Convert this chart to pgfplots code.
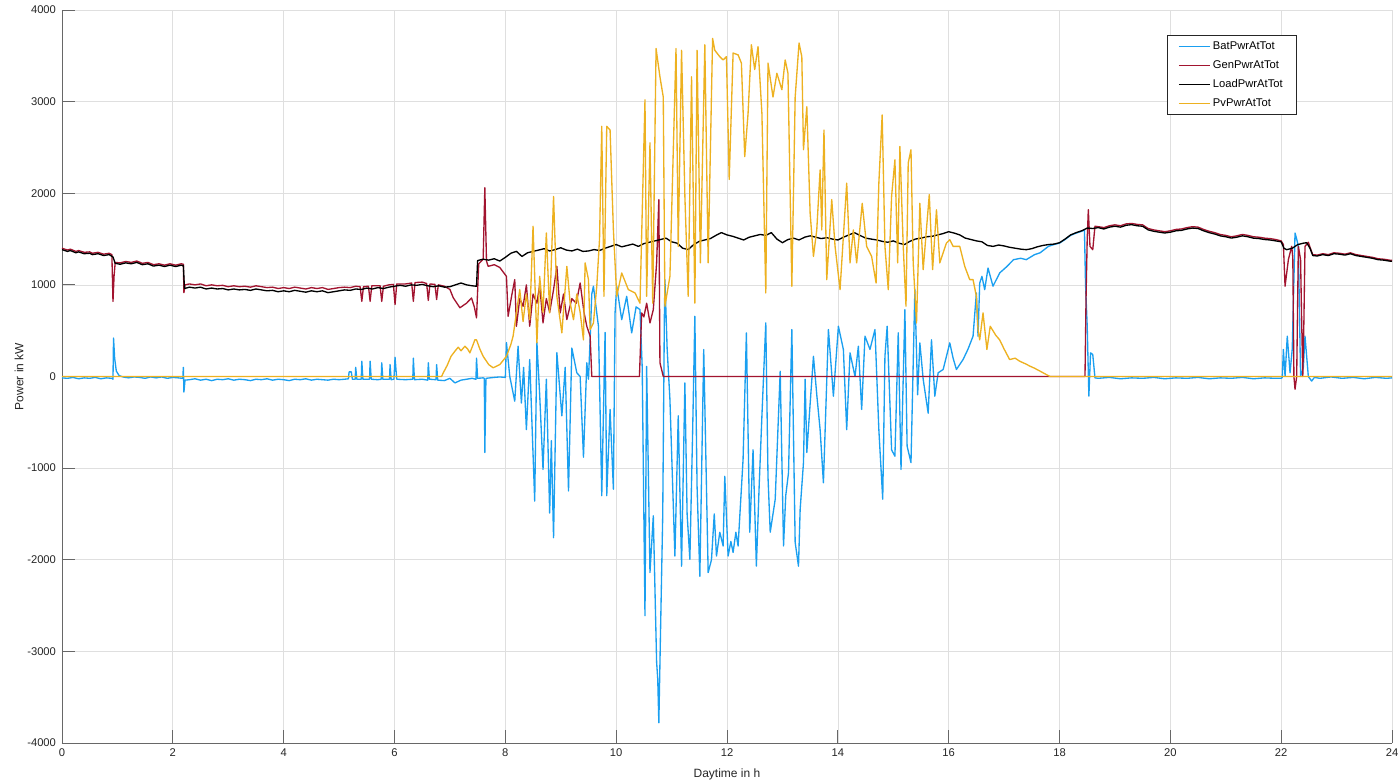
\documentclass[border=0pt]{standalone}
\usepackage{fontspec}
\setmainfont{Liberation Sans}
\usepackage{pgfplots}
\pgfplotsset{compat=1.18}

\definecolor{batblue}{HTML}{1A9FF0}
\definecolor{genred}{HTML}{A2142F}
\definecolor{pvyellow}{HTML}{EDB120}
\definecolor{axgray}{HTML}{262626}
\definecolor{gridgray}{HTML}{DFDFDF}

\begin{document}
\begin{tikzpicture}
\begin{axis}[
    name=ax,
    width=997.5pt, height=549.75pt,
    scale only axis,
    xmin=0, xmax=24, ymin=-4000, ymax=4000,
    xtick={0,2,...,24},
    ytick={-4000,-3000,...,4000},
    scaled ticks=false,
    /pgf/number format/1000 sep={},
    /pgf/number format/assume math mode=true,
    axis lines=left,
    axis line style={-, draw=axgray!70, line width=0.6pt},
    tick align=inside,
    major tick length=9.75pt,
    tick style={draw=axgray!70, line width=0.6pt},
    grid=major,
    major grid style={draw=gridgray, line width=0.5pt},
    tick label style={font=\fontsize{8.4}{10}\selectfont, text=axgray},
    xticklabel style={yshift=-1pt},
    yticklabel style={xshift=-1pt},
    xlabel={Daytime in h},
    ylabel={Power in kW},
    label style={font=\fontsize{9}{11}\selectfont, text=axgray},
    xlabel style={yshift=-1.75pt},
    ylabel style={yshift=-4pt},
    legend cell align=left,
    legend style={at={(0.9286,0.966)}, anchor=north east, draw=axgray, line width=0.5pt,
        font=\fontsize{8.4}{10}\selectfont, row sep=2.7pt, inner xsep=8.5pt, inner ysep=3pt},
    legend image code/.code={\draw[#1] (0pt,0pt) -- (23pt,0pt);},
    every axis plot/.append style={line width=1pt, line join=round},
]
% BatPwrAtTot
\addplot[batblue] coordinates {
(0.00,-15) (0.10,-20) (0.20,-10) (0.30,-25) (0.40,-15) (0.50,-20) (0.60,-10) (0.70,-25) (0.80,-15) (0.90,-20)
(0.92,-30) (0.93,420) (0.95,200) (0.98,60) (1.03,10) (1.10,-5) (1.20,-15) (1.30,-5) (1.40,-10) (1.50,-20)
(1.60,-5) (1.70,-15) (1.80,-5) (1.90,-20) (2.00,-10) (2.10,-15) (2.18,-20) (2.19,100) (2.20,-170) (2.22,-40)
(2.30,-35) (2.40,-25) (2.50,-40) (2.60,-30) (2.70,-45) (2.80,-30) (2.90,-35) (3.00,-25) (3.10,-40) (3.20,-30)
(3.30,-35) (3.40,-45) (3.50,-30) (3.60,-35) (3.70,-25) (3.80,-40) (3.90,-30) (4.00,-35) (4.10,-45) (4.20,-30)
(4.30,-35) (4.40,-25) (4.50,-40) (4.60,-30) (4.70,-35) (4.80,-40) (4.90,-30) (5.00,-35) (5.10,-30) (5.17,-25)
(5.18,50) (5.22,50) (5.24,-30) (5.29,-30) (5.30,100) (5.32,-30) (5.40,-30) (5.41,167) (5.43,-30) (5.55,-30)
(5.56,167) (5.58,-30) (5.70,-35) (5.76,-30) (5.77,150) (5.79,-30) (5.91,-30) (5.92,130) (5.94,-35) (5.99,-30)
(6.01,210) (6.04,-30) (6.20,-35) (6.33,-30) (6.34,200) (6.36,-35) (6.50,-30) (6.60,-40) (6.61,150) (6.63,-30)
(6.75,-35) (6.76,130) (6.78,-40) (6.90,-45) (7.00,-20) (7.09,-70) (7.20,-40) (7.30,-30) (7.40,-20) (7.47,-30)
(7.48,200) (7.50,-20) (7.60,-15) (7.62,-20) (7.63,-830) (7.65,-20) (7.80,-10) (7.90,-5) (8.00,-10) (8.02,370)
(8.08,0) (8.17,-270) (8.23,330) (8.29,-290) (8.33,100) (8.38,-580) (8.44,185) (8.53,-1360) (8.57,370) (8.62,-200)
(8.68,-1015) (8.74,-30) (8.80,-1490) (8.83,-700) (8.87,-1760) (8.93,260) (9.02,-430) (9.08,100) (9.14,-1250) (9.20,310)
(9.29,40) (9.35,0) (9.41,-880) (9.47,150) (9.50,-30) (9.53,400) (9.56,900) (9.59,985) (9.65,694) (9.68,550)
(9.74,-1300) (9.80,480) (9.83,-1300) (9.89,-360) (9.95,-1230) (9.98,694) (10.01,985) (10.10,620) (10.19,875) (10.28,476)
(10.36,760) (10.43,730) (10.47,100) (10.52,-2610) (10.55,110) (10.61,-2140) (10.67,-1520) (10.73,-3120) (10.75,-3300) (10.77,-3780)
(10.80,-2800) (10.84,-1520) (10.87,657) (10.88,1057) (10.92,300) (10.97,-250) (11.02,-1200) (11.06,-1960) (11.12,-430) (11.18,-2070)
(11.24,-70) (11.28,-1500) (11.33,-1995) (11.38,-600) (11.42,657) (11.46,-1200) (11.51,-2180) (11.58,295) (11.66,-2140) (11.72,-2000)
(11.77,-1500) (11.81,-1960) (11.87,-1700) (11.93,-1850) (11.96,-1090) (12.02,-1960) (12.07,-1800) (12.11,-1920) (12.16,-1700) (12.20,-1850)
(12.29,-905) (12.35,476) (12.41,-1700) (12.47,-800) (12.53,-2070) (12.58,-1200) (12.63,-430) (12.70,585) (12.74,-1100) (12.78,-1700)
(12.87,-1340) (12.96,58) (13.02,-1850) (13.06,-1300) (13.11,-1050) (13.17,512) (13.23,-1810) (13.29,-2070) (13.32,-1450) (13.38,-940)
(13.41,-30) (13.44,-830) (13.50,-300) (13.56,220) (13.62,-200) (13.68,-580) (13.74,-1160) (13.83,512) (13.92,-215) (14.01,548)
(14.10,295) (14.16,-580) (14.22,258) (14.31,0) (14.37,330) (14.43,-360) (14.49,440) (14.58,295) (14.67,512) (14.74,-580)
(14.81,-1340) (14.85,220) (14.89,548) (14.97,-800) (15.03,-870) (15.09,476) (15.14,-1015) (15.21,730) (15.25,-760) (15.32,-940)
(15.39,948) (15.44,-200) (15.48,367) (15.54,-30) (15.63,-400) (15.69,400) (15.75,-215) (15.81,40) (15.90,76) (16.02,367)
(16.08,200) (16.14,76) (16.26,185) (16.35,300) (16.44,440) (16.50,912) (16.53,440) (16.56,1020) (16.60,1093) (16.65,948)
(16.71,1184) (16.80,985) (16.92,1130) (17.05,1200) (17.17,1275) (17.30,1290) (17.40,1275) (17.55,1330) (17.65,1350) (17.80,1420)
(17.90,1440) (18.00,1455) (18.10,1495) (18.20,1540) (18.30,1565) (18.40,1585) (18.45,1600) (18.47,1000) (18.50,548) (18.53,-215)
(18.56,258) (18.60,240) (18.64,-15) (18.70,-20) (18.90,-10) (19.10,-25) (19.30,-15) (19.50,-20) (19.70,-10) (19.90,-25)
(20.10,-15) (20.30,-20) (20.50,-10) (20.70,-25) (20.90,-15) (21.10,-20) (21.30,-10) (21.50,-25) (21.70,-15) (21.90,-20)
(22.00,-20) (22.02,-10) (22.04,295) (22.07,0) (22.11,440) (22.16,40) (22.20,300) (22.25,1566) (22.28,1500) (22.31,1420)
(22.35,0) (22.40,100) (22.43,440) (22.49,0) (22.55,-50) (22.60,-10) (22.70,-20) (22.90,-5) (23.10,-20) (23.30,-10)
(23.50,-25) (23.70,-10) (23.90,-20) (24.00,-15)
};
\addlegendentry{BatPwrAtTot}
% GenPwrAtTot
\addplot[genred] coordinates {
(0.00,1400) (0.10,1380) (0.15,1390) (0.25,1365) (0.30,1375) (0.40,1355) (0.50,1360) (0.55,1345) (0.65,1355) (0.75,1335)
(0.85,1345) (0.90,1330) (0.92,820) (0.94,1100) (0.96,1245) (1.05,1240) (1.15,1255) (1.25,1245) (1.35,1260) (1.45,1235)
(1.55,1245) (1.65,1220) (1.75,1230) (1.85,1215) (1.95,1230) (2.05,1215) (2.15,1230) (2.19,1225) (2.20,915) (2.22,1000)
(2.30,1010) (2.40,1000) (2.50,1010) (2.60,990) (2.70,1000) (2.80,990) (2.90,995) (3.00,980) (3.10,990) (3.20,980)
(3.30,985) (3.40,975) (3.50,990) (3.60,980) (3.70,970) (3.80,975) (3.90,960) (4.00,970) (4.10,960) (4.20,975)
(4.30,965) (4.40,955) (4.50,970) (4.60,960) (4.70,970) (4.80,950) (4.90,960) (5.00,970) (5.10,975) (5.20,970)
(5.30,985) (5.38,980) (5.41,820) (5.44,980) (5.53,985) (5.56,820) (5.59,990) (5.74,990) (5.77,820) (5.80,985)
(5.90,1000) (5.98,1005) (6.01,785) (6.04,1010) (6.20,1010) (6.31,1020) (6.34,820) (6.37,1025) (6.50,1030) (6.58,1015)
(6.61,830) (6.64,1010) (6.73,1005) (6.76,840) (6.79,1000) (6.90,985) (7.00,950) (7.06,860) (7.18,750) (7.30,800)
(7.39,857) (7.44,760) (7.48,640) (7.52,1230) (7.60,1280) (7.63,2060) (7.66,1260) (7.69,1202) (7.80,1220) (7.90,1190)
(8.02,1093) (8.05,657) (8.12,900) (8.17,1057) (8.20,548) (8.26,850) (8.32,766) (8.38,1000) (8.44,548) (8.50,900)
(8.57,800) (8.62,1000) (8.68,585) (8.74,850) (8.80,700) (8.87,948) (8.93,1202) (8.99,694) (9.05,900) (9.11,621)
(9.20,850) (9.28,800) (9.35,1021) (9.42,700) (9.47,548) (9.53,440) (9.56,0) (10.42,0) (10.46,694) (10.50,650)
(10.55,800) (10.61,585) (10.67,730) (10.73,1240) (10.77,1930) (10.79,150) (10.85,0) (18.46,0) (18.48,900) (18.50,1500)
(18.52,1820) (18.55,1420) (18.60,1384) (18.64,1640) (18.70,1635) (18.80,1625) (18.90,1645) (19.00,1655) (19.10,1645) (19.20,1665)
(19.30,1670) (19.40,1660) (19.50,1655) (19.60,1615) (19.70,1600) (19.80,1590) (19.90,1580) (20.00,1590) (20.10,1605) (20.20,1610)
(20.30,1625) (20.40,1635) (20.50,1630) (20.60,1605) (20.70,1585) (20.80,1570) (20.90,1550) (21.00,1540) (21.10,1525) (21.20,1535)
(21.30,1550) (21.40,1540) (21.50,1525) (21.60,1520) (21.70,1510) (21.80,1505) (21.90,1495) (22.00,1480) (22.04,1440) (22.07,985)
(22.13,1275) (22.19,1420) (22.21,1300) (22.23,0) (22.25,-140) (22.28,0) (22.31,1420) (22.35,1275) (22.37,600) (22.39,0)
(22.41,600) (22.43,1420) (22.49,1465) (22.52,1410) (22.57,1330) (22.65,1325) (22.75,1340) (22.85,1330) (22.95,1350) (23.05,1345)
(23.15,1335) (23.25,1350) (23.35,1330) (23.45,1320) (23.55,1310) (23.65,1300) (23.75,1285) (23.85,1280) (23.95,1270) (24.00,1267)
};
\addlegendentry{GenPwrAtTot}
% LoadPwrAtTot
\addplot[black] coordinates {
(0.00,1385) (0.10,1365) (0.15,1375) (0.25,1350) (0.30,1360) (0.40,1340) (0.50,1345) (0.55,1330) (0.65,1340) (0.75,1320)
(0.85,1330) (0.92,1305) (0.96,1235) (1.05,1225) (1.15,1240) (1.25,1230) (1.35,1245) (1.45,1220) (1.55,1230) (1.65,1205)
(1.75,1215) (1.85,1200) (1.95,1215) (2.05,1200) (2.15,1215) (2.19,1210) (2.21,960) (2.30,975) (2.40,965) (2.50,975)
(2.60,955) (2.70,965) (2.80,955) (2.90,960) (3.00,945) (3.10,955) (3.20,945) (3.30,950) (3.40,940) (3.50,955)
(3.60,945) (3.70,935) (3.80,940) (3.90,925) (4.00,935) (4.10,925) (4.20,940) (4.30,930) (4.40,920) (4.50,935)
(4.60,925) (4.70,935) (4.80,915) (4.90,925) (5.00,935) (5.10,945) (5.20,940) (5.30,955) (5.40,950) (5.50,965)
(5.60,955) (5.70,970) (5.80,960) (5.90,975) (6.00,985) (6.10,995) (6.20,985) (6.30,1000) (6.40,995) (6.50,1005)
(6.60,990) (6.70,980) (6.80,990) (6.90,975) (7.00,980) (7.10,1000) (7.20,1020) (7.30,1000) (7.40,990) (7.48,985)
(7.50,1265) (7.60,1280) (7.70,1270) (7.80,1285) (7.90,1260) (8.00,1300) (8.10,1345) (8.20,1366) (8.30,1310) (8.40,1350)
(8.50,1365) (8.60,1380) (8.70,1395) (8.80,1370) (8.90,1385) (9.00,1405) (9.10,1380) (9.20,1370) (9.30,1390) (9.40,1365)
(9.50,1370) (9.60,1385) (9.70,1375) (9.80,1400) (9.90,1420) (10.00,1440) (10.10,1415) (10.20,1430) (10.30,1445) (10.40,1420)
(10.50,1450) (10.60,1465) (10.70,1480) (10.80,1495) (10.90,1510) (11.00,1470) (11.10,1455) (11.20,1400) (11.30,1385) (11.40,1440)
(11.50,1475) (11.60,1490) (11.70,1505) (11.80,1540) (11.90,1570) (12.00,1545) (12.10,1530) (12.20,1510) (12.30,1490) (12.40,1520)
(12.50,1535) (12.60,1550) (12.70,1540) (12.80,1570) (12.90,1500) (13.00,1460) (13.10,1495) (13.20,1510) (13.30,1490) (13.40,1520)
(13.50,1535) (13.60,1520) (13.70,1505) (13.80,1515) (13.90,1500) (14.00,1490) (14.10,1520) (14.20,1545) (14.30,1570) (14.40,1540)
(14.50,1510) (14.60,1500) (14.70,1490) (14.80,1475) (14.90,1465) (15.00,1480) (15.10,1455) (15.20,1440) (15.30,1475) (15.40,1500)
(15.50,1510) (15.60,1525) (15.70,1530) (15.80,1545) (15.90,1560) (16.00,1580) (16.10,1565) (16.20,1545) (16.30,1510) (16.40,1495)
(16.50,1480) (16.60,1470) (16.70,1430) (16.80,1420) (16.90,1435) (17.00,1425) (17.10,1410) (17.20,1400) (17.30,1390) (17.40,1384)
(17.50,1395) (17.60,1415) (17.70,1430) (17.80,1440) (17.90,1445) (18.00,1460) (18.10,1500) (18.20,1545) (18.30,1570) (18.40,1590)
(18.50,1620) (18.60,1615) (18.70,1625) (18.80,1610) (18.90,1630) (19.00,1640) (19.10,1630) (19.20,1650) (19.30,1657) (19.40,1645)
(19.50,1640) (19.60,1600) (19.70,1585) (19.80,1575) (19.90,1566) (20.00,1575) (20.10,1590) (20.20,1595) (20.30,1610) (20.40,1620)
(20.50,1615) (20.60,1590) (20.70,1570) (20.80,1555) (20.90,1535) (21.00,1525) (21.10,1511) (21.20,1520) (21.30,1535) (21.40,1525)
(21.50,1510) (21.60,1505) (21.70,1495) (21.80,1490) (21.90,1480) (22.00,1470) (22.05,1400) (22.10,1384) (22.20,1400) (22.30,1440)
(22.40,1455) (22.46,1460) (22.52,1400) (22.57,1320) (22.65,1315) (22.75,1330) (22.85,1320) (22.95,1340) (23.05,1335) (23.15,1325)
(23.25,1340) (23.35,1320) (23.45,1310) (23.55,1300) (23.65,1290) (23.75,1275) (23.85,1270) (23.95,1260) (24.00,1257)
};
\addlegendentry{LoadPwrAtTot}
% PvPwrAtTot
\addplot[pvyellow] coordinates {
(0.00,0) (6.85,0) (6.88,40) (6.95,120) (7.02,220) (7.09,276) (7.15,320) (7.20,280) (7.27,330) (7.32,300)
(7.36,258) (7.42,350) (7.45,400) (7.48,400) (7.54,300) (7.60,220) (7.70,130) (7.78,95) (7.90,130) (8.02,220)
(8.10,350) (8.14,440) (8.20,694) (8.26,948) (8.32,600) (8.38,900) (8.44,620) (8.50,1640) (8.57,367) (8.62,1093)
(8.68,700) (8.74,1566) (8.80,694) (8.87,1965) (8.93,875) (9.02,476) (9.11,1202) (9.17,800) (9.23,620) (9.29,900)
(9.35,700) (9.41,400) (9.44,1240) (9.50,1057) (9.53,512) (9.59,585) (9.65,985) (9.70,1500) (9.74,2730) (9.78,875)
(9.83,2730) (9.89,2690) (9.95,1600) (10.01,875) (10.10,1130) (10.22,948) (10.34,912) (10.43,800) (10.52,3020) (10.55,875)
(10.61,2550) (10.66,800) (10.72,3580) (10.79,3270) (10.85,3050) (10.88,766) (10.97,1093) (11.08,3580) (11.12,1420) (11.18,3560)
(11.24,1965) (11.30,875) (11.36,3270) (11.42,800) (11.46,3560) (11.52,1240) (11.60,3620) (11.66,1240) (11.74,3690) (11.78,3560)
(11.87,3490) (11.93,3455) (11.99,3490) (12.04,2150) (12.11,3530) (12.20,3510) (12.26,3420) (12.32,2400) (12.38,2870) (12.44,3620)
(12.50,3350) (12.56,3600) (12.63,2870) (12.70,912) (12.74,3420) (12.83,3050) (12.90,3310) (12.99,3130) (13.05,3455) (13.10,3310)
(13.17,985) (13.23,3050) (13.30,3640) (13.35,3490) (13.38,2475) (13.44,2945) (13.50,1784) (13.56,1310) (13.62,1600) (13.68,2255)
(13.71,1600) (13.75,2690) (13.80,1057) (13.89,1930) (13.95,1420) (14.04,948) (14.16,2110) (14.22,1240) (14.28,1600) (14.34,1240)
(14.44,1890) (14.52,1420) (14.61,1310) (14.69,1020) (14.74,2110) (14.80,2855) (14.85,1420) (14.91,948) (14.97,1965) (15.03,2365)
(15.08,1240) (15.12,2510) (15.18,1420) (15.23,766) (15.27,2330) (15.32,2475) (15.36,1240) (15.42,585) (15.48,1890) (15.54,1166)
(15.65,1985) (15.71,1166) (15.78,1820) (15.84,1240) (15.96,1457) (16.02,1493) (16.08,1420) (16.20,1420) (16.29,1202) (16.38,1057)
(16.44,1057) (16.50,875) (16.53,512) (16.56,400) (16.62,694) (16.69,295) (16.75,548) (16.85,450) (16.92,400) (17.00,300)
(17.10,185) (17.20,200) (17.28,167) (17.38,140) (17.47,112) (17.55,90) (17.65,58) (17.75,25) (17.83,0) (24.00,0)
};
\addlegendentry{PvPwrAtTot}
\end{axis}
\pgfresetboundingbox
\path ([shift={(-46.5pt,-29.25pt)}]ax.south west) rectangle ([shift={(6pt,7.5pt)}]ax.north east);
\end{tikzpicture}
\end{document}
